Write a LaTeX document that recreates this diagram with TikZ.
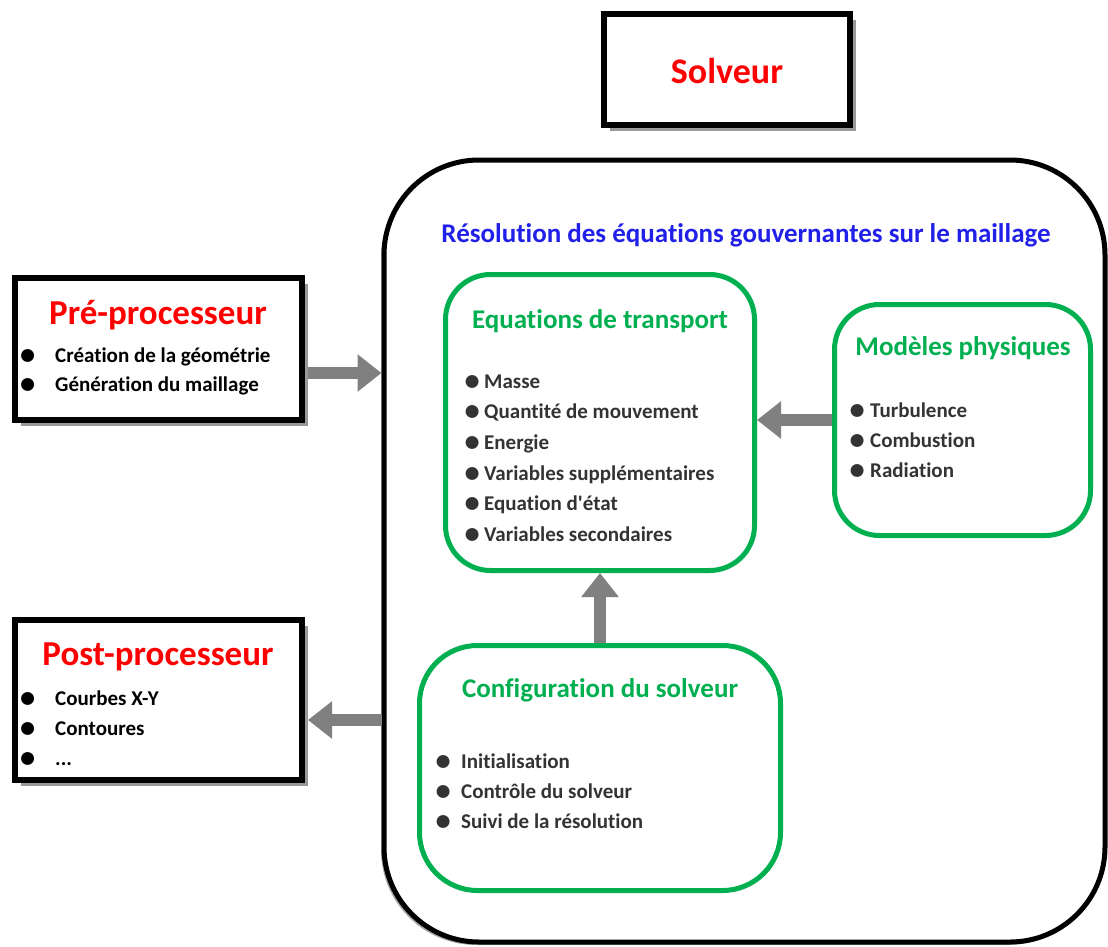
\documentclass[tikz,border=0pt]{standalone}
\usepackage{fontspec}
\setmainfont{Carlito}[RawFeature=-liga]
\usetikzlibrary{positioning,shadows,arrows.meta}

\definecolor{solvred}{HTML}{FF0000}
\definecolor{resblue}{HTML}{2020E8}
\definecolor{boxgreen}{HTML}{00B050}
\definecolor{itemgray}{HTML}{333333}
\definecolor{arrowgray}{HTML}{808080}

% bullet hung to the left of an item
\newcommand{\blt}[1]{\llap{\raisebox{-2.2pt}{\scalebox{1.45}{\textbullet}}\hspace{#1}}}

\tikzset{
blackbox/.style={
  rectangle,
  draw=black,
  line width=6pt,
  fill=white,
  inner sep=0pt,
  drop shadow={shadow xshift=6pt, shadow yshift=-6pt, fill=black!40, opacity=1},
},
solvframe/.style={
  rectangle,
  draw=black,
  line width=5pt,
  rounded corners=95pt,
  fill=white,
  inner sep=0pt,
  drop shadow={shadow xshift=-3pt, shadow yshift=-3pt, fill=black!35, opacity=1},
},
greenbox/.style={
  rectangle,
  draw=boxgreen,
  line width=5pt,
  rounded corners=45pt,
  fill=white,
  inner sep=0pt,
},
redtitle/.style={text=solvred, font=\fontsize{35}{35}\selectfont\bfseries, inner sep=0pt, anchor=base},
greentitle/.style={text=boxgreen, font=\fontsize{27}{27}\selectfont\bfseries, inner sep=0pt, anchor=base},
blackitem/.style={text=black, font=\fontsize{21}{21}\selectfont\bfseries, inner sep=0pt, anchor=base west},
grayitem/.style={text=itemgray, font=\fontsize{21}{21}\selectfont\bfseries, inner sep=0pt, anchor=base west},
flowarrow/.style={draw=arrowgray, line width=12pt, -{Triangle[length=24pt,width=36pt]}},
}

\begin{document}
\begin{tikzpicture}[x=1pt,y=-1pt]
\useasboundingbox (0,0) rectangle (1108,946);

% solveur
\node[blackbox, minimum width=246pt, minimum height=111pt] (solv) at (727,69.5) {};
\node[redtitle, font=\fontsize{36}{36}\selectfont\bfseries] (solv-t) at (727,83) {Solveur};

% big frame
\node[solvframe, minimum width=721pt, minimum height=782pt] (frame) at (744.5,551) {};
\node[text=resblue, font=\fontsize{27}{27}\selectfont\bfseries, inner sep=0pt, anchor=base] (frame-t) at (746,242) {Résolution des équations gouvernantes sur le maillage};

% pre-processeur
\node[blackbox, minimum width=287pt, minimum height=142pt] (pre) at (158.5,349) {};
\node[redtitle] (pre-t) at (158,324) {Pré-processeur};
\node[blackitem] (pre-1) at (55,362) {\blt{20pt}Création de la géométrie};
\node[blackitem] (pre-2) at (55,391) {\blt{20pt}Génération du maillage};

% post-processeur
\node[blackbox, minimum width=287pt, minimum height=160pt] (post) at (158.5,700) {};
\node[redtitle] (post-t) at (158,665) {Post-processeur};
\node[blackitem] (post-1) at (55,705) {\blt{20pt}Courbes X-Y};
\node[blackitem] (post-2) at (55,735) {\blt{20pt}Contoures};
\node[blackitem] (post-3) at (55,765) {\blt{20pt}...};

% equations de transport
\node[greenbox, minimum width=309pt, minimum height=296pt] (eq) at (600,422.5) {};
\node[greentitle] (eq-t) at (600,328) {Equations de transport};
\node[grayitem] (eq-1) at (484,388) {\blt{4.5pt}Masse};
\node[grayitem] (eq-2) at (484,418.5) {\blt{4.5pt}Quantité de mouvement};
\node[grayitem] (eq-3) at (484,449) {\blt{4.5pt}Energie};
\node[grayitem] (eq-4) at (484,480) {\blt{4.5pt}Variables supplémentaires};
\node[grayitem] (eq-5) at (484,510.5) {\blt{4.5pt}Equation d\textquotesingle état};
\node[grayitem] (eq-6) at (484,541) {\blt{4.5pt}Variables secondaires};

% modeles physiques
\node[greenbox, minimum width=256pt, minimum height=231pt] (phys) at (962.5,420) {};
\node[greentitle] (phys-t) at (963,355) {Modèles physiques};
\node[grayitem] (phys-1) at (870,417) {\blt{5.5pt}Turbulence};
\node[grayitem] (phys-2) at (870,447) {\blt{5.5pt}Combustion};
\node[grayitem] (phys-3) at (870,477) {\blt{5.5pt}Radiation};

% configuration du solveur
\node[greenbox, rounded corners=58pt, minimum width=361pt, minimum height=245pt] (conf) at (600,768) {};
\node[greentitle] (conf-t) at (600,697) {Configuration du solveur};
\node[grayitem] (conf-1) at (461,768) {\blt{10.5pt}Initialisation};
\node[grayitem] (conf-2) at (461,798) {\blt{10.5pt}Contrôle du solveur};
\node[grayitem] (conf-3) at (461,828) {\blt{10.5pt}Suivi de la résolution};

% arrows
\draw[flowarrow] ([xshift=3pt,yshift=-24pt]pre.east) -- (frame.west |- 0,373);
\draw[flowarrow] (frame.west |- 0,720) -- ([xshift=3pt,yshift=-20pt]post.east);
\draw[flowarrow] (phys.west) -- (phys.west -| eq.east);
\draw[flowarrow] (conf.north) -- (eq.south);
\end{tikzpicture}
\end{document}
